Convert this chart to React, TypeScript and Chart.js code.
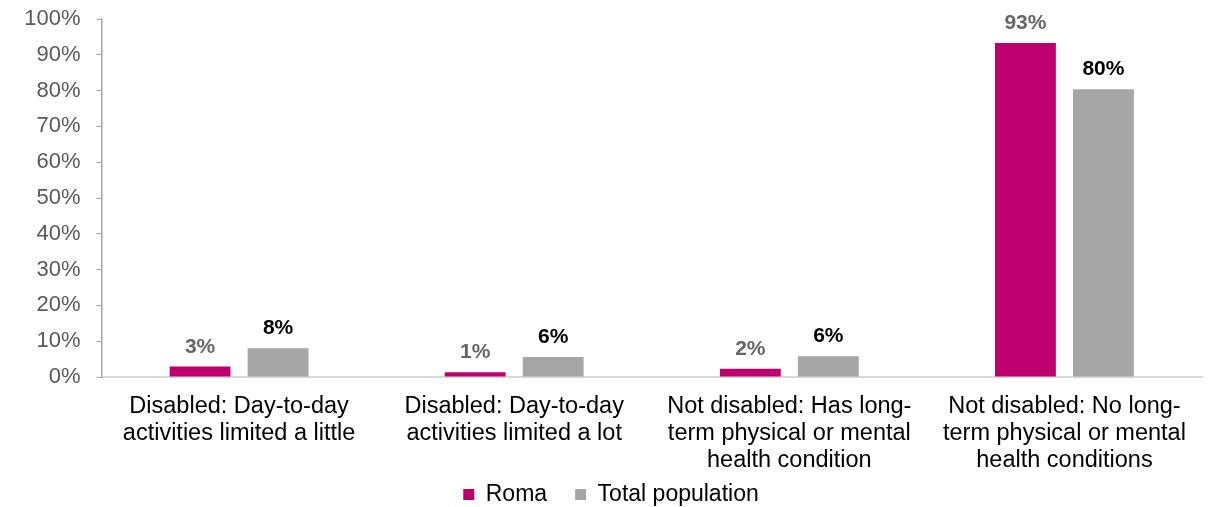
import React, { useEffect, useRef } from "react";
import { Chart, registerables } from "chart.js";

Chart.register(...registerables);

const categories: string[][] = [
  ["Disabled: Day-to-day", "activities limited a little"],
  ["Disabled: Day-to-day", "activities limited a lot"],
  ["Not disabled: Has long-", "term physical or mental", "health condition"],
  ["Not disabled: No long-", "term physical or mental", "health conditions"],
];

const seriesNames = ["Roma", "Total population"];
const romaValues = [2.9, 1.3, 2.3, 93.3];
const totalValues = [8.0, 5.6, 5.8, 80.4];
const romaLabels = ["3%", "1%", "2%", "93%"];
const totalLabels = ["8%", "6%", "6%", "80%"];

const yMin = 0;
const yMax = 100;
const yStep = 10;

const FONT = "'Liberation Sans', Arial, sans-serif";

const dataLabelPlugin = {
  id: "dataLabels",
  afterLayout(chart: any) {
    if (chart.legend) {
      chart.legend.left += 10;
      chart.legend.right += 10;
    }
  },
  afterDatasetsDraw(chart: any) {
    const ctx = chart.ctx;
    chart.data.datasets.forEach((ds: any, di: number) => {
      const meta = chart.getDatasetMeta(di);
      ctx.save();
      ctx.font = `bold 21px ${FONT}`;
      ctx.fillStyle = ds.labelColor;
      ctx.textAlign = "center";
      ctx.textBaseline = "alphabetic";
      meta.data.forEach((bar: any, i: number) => {
        ctx.fillText(ds.valueLabels[i], bar.x, bar.y - 14);
      });
      ctx.restore();
    });
  },
};

export default function App() {
  const canvasRef = useRef<HTMLCanvasElement | null>(null);

  useEffect(() => {
    document.body.style.margin = "0";
    const canvas = canvasRef.current;
    if (!canvas) return;
    const chart = new Chart(canvas, {
      type: "bar",
      data: {
        labels: categories,
        datasets: [
          {
            label: seriesNames[0],
            data: romaValues,
            backgroundColor: "#BE006F",
            categoryPercentage: 0.567,
            barPercentage: 0.78,
            valueLabels: romaLabels,
            labelColor: "#666666",
          } as any,
          {
            label: seriesNames[1],
            data: totalValues,
            backgroundColor: "#A6A6A6",
            categoryPercentage: 0.567,
            barPercentage: 0.78,
            valueLabels: totalLabels,
            labelColor: "#000000",
          } as any,
        ],
      },
      options: {
        animation: false,
        responsive: false,
        maintainAspectRatio: false,
        layout: { padding: { top: 19, right: 10, left: 0, bottom: -9 } },
        plugins: {
          legend: {
            position: "bottom",
            labels: {
              boxWidth: 11,
              boxHeight: 11,
              padding: 28,
              color: "#000000",
              font: { family: FONT, size: 23 },
            },
          },
          tooltip: { enabled: false },
        },
        scales: {
          x: {
            grid: { display: false, drawTicks: false },
            border: { display: true, color: "#D9D9D9", width: 2 },
            ticks: {
              color: "#000000",
              font: { family: FONT, size: 23.5, lineHeight: 1.15 },
              padding: 16,
              maxRotation: 0,
              autoSkip: false,
            },
            afterFit: (scale: any) => {
              scale.height = 78;
              scale._computeLabelArea = () => undefined;
            },
          } as any,
          y: {
            min: yMin,
            max: yMax,
            grid: {
              drawOnChartArea: false,
              drawTicks: true,
              tickLength: 5,
              color: "#A6A6A6",
            },
            border: { display: true, color: "#A6A6A6", width: 1.5 },
            ticks: {
              stepSize: yStep,
              color: "#595959",
              font: { family: FONT, size: 22, lineHeight: 0.2 },
              padding: 16,
              callback: (v: any) => `${v}%`,
            },
            afterFit: (scale: any) => {
              scale.width = 101.5;
            },
          },
        },
      },
      plugins: [dataLabelPlugin],
    });
    return () => chart.destroy();
  }, []);

  return (
    <div style={{ width: 1212, height: 507 }}>
      <canvas ref={canvasRef} width={1212} height={507} style={{ display: "block" }} />
    </div>
  );
}
